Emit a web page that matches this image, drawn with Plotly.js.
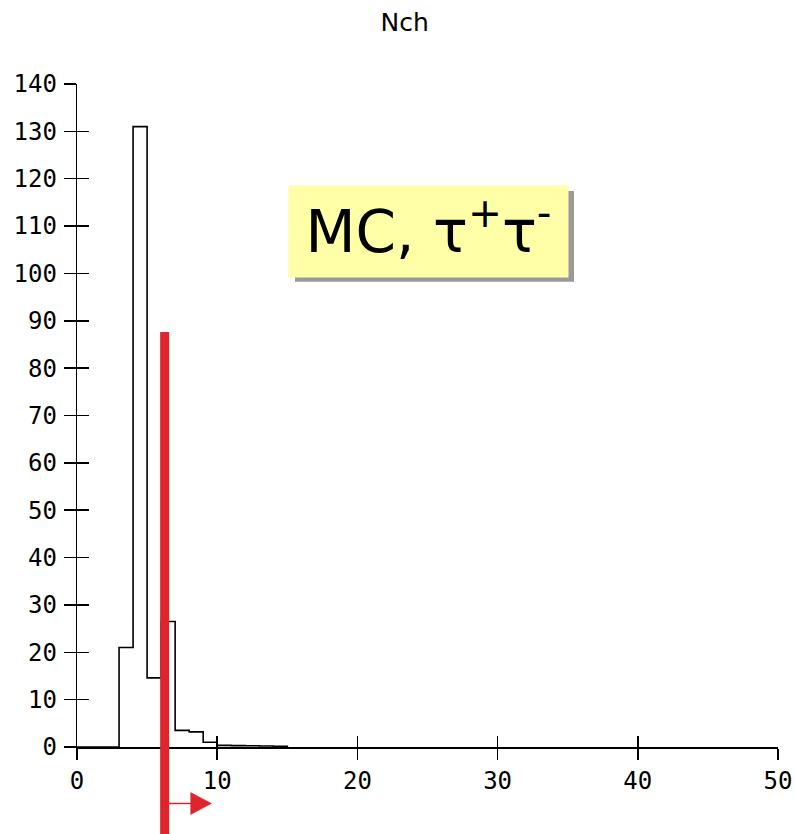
<!DOCTYPE html>
<html>
<head>
<meta charset="utf-8">
<script src="https://cdn.plot.ly/plotly-3.0.1.min.js"></script>
<style>html,body{margin:0;padding:0;background:#fff;}#chart{width:795px;height:834px;}</style>
</head>
<body>
<div id="chart"></div>
<script>
// Bin lower edges (Nch) and counts
var binEdges = [0, 1, 2, 3, 4, 5, 6, 7, 8, 9, 10, 11, 12, 13, 14, 15];
var binCounts = [0, 0, 0, 21, 131, 14.6, 26.5, 3.5, 3.2, 1.0, 0.35, 0.3, 0.25, 0.2, 0.15, 0];
var cutValue = 6.25;            // selection cut shown by the red line
var xTicks = [0, 10, 20, 30, 40, 50];
var yTicks = [0, 10, 20, 30, 40, 50, 60, 70, 80, 90, 100, 110, 120, 130, 140];
var titleText = 'Nch';
var labelText = 'MC, τ<sup>+</sup>τ<sup>-</sup>';

var red = '#e0242c';
var tickFont = {family: 'DejaVu Sans Mono', size: 24, color: '#000'};

// pixel helpers for the label box (layout only)
function px2x(p) { return (p - 77) / 701; }
function py2y(p) { return (747.5 - p) / 663.5; }

var trace = {
  x: binEdges, y: binCounts, type: 'scatter', mode: 'lines',
  line: {shape: 'hv', color: '#000', width: 1.6},
  hoverinfo: 'skip', showlegend: false, cliponaxis: false
};

var layout = {
  width: 795, height: 834,
  margin: {l: 77, r: 17, t: 84, b: 86.5},
  paper_bgcolor: '#fff', plot_bgcolor: '#fff',
  showlegend: false,
  title: {text: titleText, x: 0.509, xanchor: 'center', y: 0.973, yanchor: 'middle',
          font: {family: 'DejaVu Sans', size: 25, color: '#000'}},
  xaxis: {range: [0, 50], tickvals: xTicks, ticktext: xTicks.map(String),
          ticks: 'outside', ticklen: 11, tickwidth: 1.5, tickcolor: '#000',
          showline: true, linecolor: '#000', linewidth: 2,
          showgrid: false, zeroline: false, tickfont: tickFont, ticklabelstandoff: 0},
  yaxis: {range: [0, 140], tickvals: yTicks, ticktext: yTicks.map(String),
          ticks: 'outside', ticklen: 12, tickwidth: 1.5, tickcolor: '#000',
          showline: true, linecolor: '#000', linewidth: 1.3,
          showgrid: false, zeroline: false, tickfont: tickFont, ticklabelstandoff: 2},
  xaxis2: {overlaying: 'x', matches: 'x', range: [0, 50], tickvals: xTicks, showticklabels: false,
           ticks: 'inside', ticklen: 11, tickwidth: 1.5, tickcolor: '#000',
           showline: false, showgrid: false, zeroline: false, anchor: 'y2'},
  yaxis2: {overlaying: 'y', matches: 'y', range: [0, 140], tickvals: yTicks, showticklabels: false,
           ticks: 'inside', ticklen: 12, tickwidth: 1.5, tickcolor: '#000',
           showline: false, showgrid: false, zeroline: false, anchor: 'x2'},
  shapes: [
    {type: 'rect', xref: 'paper', yref: 'paper', x0: px2x(295), x1: px2x(574), y0: py2y(282), y1: py2y(191),
     fillcolor: '#9a9a9a', line: {width: 0}, layer: 'above'},
    {type: 'line', xref: 'x', yref: 'paper', x0: cutValue, x1: cutValue, y0: -0.2, y1: 0.626,
     line: {color: red, width: 9}, layer: 'above'},
    {type: 'line', xref: 'x', yref: 'paper', x0: cutValue, x1: cutValue + 1.9, y0: -0.0852, y1: -0.0852,
     line: {color: red, width: 1.5}, layer: 'above'},
    {type: 'path', xref: 'x', yref: 'paper',
     path: 'M ' + (cutValue + 1.86) + ' ' + (-0.0852 + 0.0166) + ' L ' + (cutValue + 3.34) + ' -0.0852 L ' +
           (cutValue + 1.86) + ' ' + (-0.0852 - 0.0166) + ' Z',
     fillcolor: red, line: {color: red, width: 0.5}, layer: 'above'}
  ],
  annotations: [
    {xref: 'paper', yref: 'paper', x: px2x(289 + 279/2), y: py2y(186 + 91/2),
     xanchor: 'center', yanchor: 'middle', text: labelText, showarrow: false,
     font: {family: 'DejaVu Sans', size: 58, color: '#000'},
     bgcolor: '#ffffa8', width: 279, height: 91, borderpad: 0, valign: 'middle', yshift: 0}
  ]
};

var ghost = {x: [0], y: [0], xaxis: 'x2', yaxis: 'y2', type: 'scatter', mode: 'markers',
             marker: {opacity: 0}, hoverinfo: 'skip', showlegend: false};

Plotly.newPlot('chart', [trace, ghost], layout, {displayModeBar: false, staticPlot: true}).then(function () {
  // nudge only the label text up slightly inside its box
  var t = document.querySelector('.annotation-text');
  if (t) {
    var y = parseFloat(t.getAttribute('y')) || 0;
    t.setAttribute('y', y - 4);
    t.querySelectorAll('tspan[y]').forEach(function (s) {
      s.setAttribute('y', parseFloat(s.getAttribute('y')) - 4);
    });
  }
});
</script>
</body>
</html>
